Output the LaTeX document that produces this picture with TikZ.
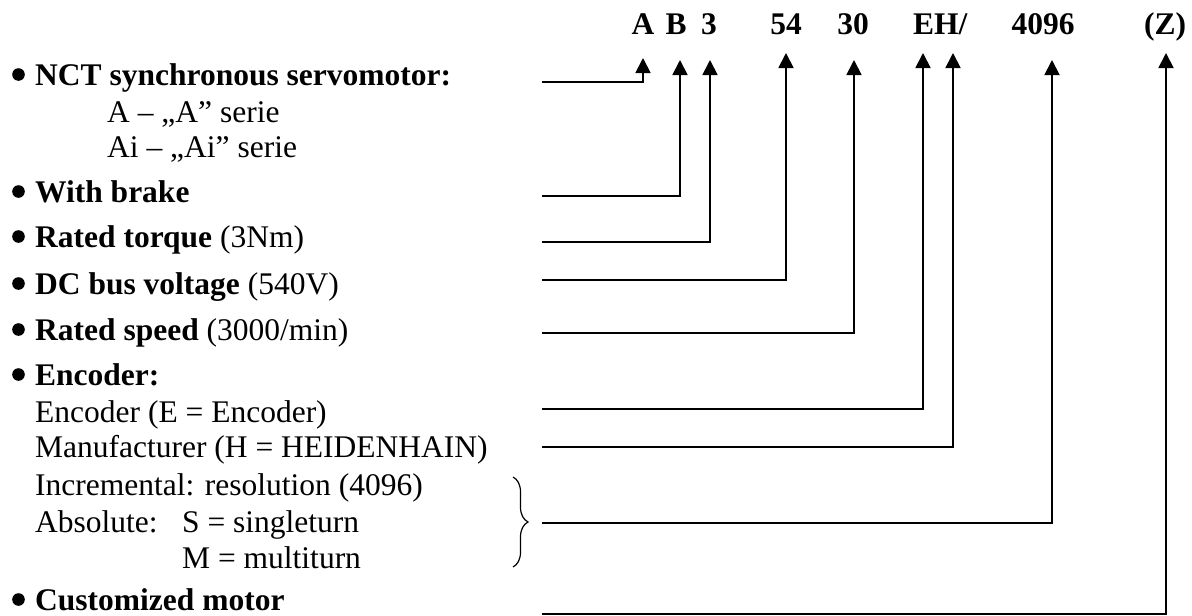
\documentclass[tikz,border=0pt]{standalone}
\usepackage{fontspec}
\setmainfont{Liberation Serif}
\usetikzlibrary{arrows.meta,decorations.pathreplacing}
\begin{document}
\begin{tikzpicture}[x=1pt,y=-1pt,
  lbl/.style={anchor=base west,inner sep=0pt,font=\fontsize{31.5pt}{36pt}\selectfont},
  bullbl/.style={lbl,text depth=0pt},
  code/.style={anchor=base,inner sep=0pt,font=\fontsize{31.5pt}{36pt}\selectfont\bfseries},
  conn/.style={line width=1.8pt,-{Triangle[length=15pt,width=15pt]}},
  bracestyle/.style={line width=1.2pt,decorate,decoration={brace,amplitude=15pt}}]
\useasboundingbox (0,0) rectangle (1192,616);
% code line
\node[code] (cA) at (643,34) {A};
\node[code] (cB) at (676,34) {B};
\node[code] (c3) at (709,34) {3};
\node[code] (c54) at (786,34) {54};
\node[code] (c30) at (853,34) {30};
\node[code,anchor=base west] (cEH) at (913,34) {EH/};
\node[code] (c4096) at (1043,34) {4096};
\node[code] (cZ) at (1165,34) {(Z)};
% left labels (bulleted items start at x=35, bullet drawn at x~18)
\node[lbl] (lNCT) at (35,85) {\textbf{NCT synchronous servomotor:}};
\node[lbl] (lA) at (107,122) {A – „A” serie};
\node[lbl] (lAi) at (107,157) {Ai – „Ai” serie};
\node[lbl] (lB) at (35,202) {\textbf{With brake}};
\node[lbl] (lT) at (35,247) {\textbf{Rated torque} (3Nm)};
\node[lbl] (lV) at (35,294) {\textbf{DC bus voltage} (540V)};
\node[lbl] (lS) at (35,340) {\textbf{Rated speed} (3000/min)};
\node[lbl] (lEnc) at (35,385) {\textbf{Encoder:}};
\node[lbl] (lE) at (35,422) {Encoder (E = Encoder)};
\node[lbl] (lH) at (35,457) {Manufacturer (H = HEIDENHAIN)};
\node[lbl] (lInc) at (35,495) {Incremental: resolution (4096)};
\node[lbl] (lAbs) at (35,532) {Absolute:};
\node[lbl] (lSt) at (182,532) {S = singleturn};
\node[lbl] (lMt) at (182,568) {M = multiturn};
\node[bullbl] (lZ) at (35,610) {\textbf{Customized motor}};
% bullets
\foreach \n in {lNCT,lB,lT,lV,lS,lEnc,lZ}
  \fill ([xshift=-16.5pt,yshift=10.5pt]\n.base west) circle (6.3pt);
% brace
\draw[bracestyle] (513,477) -- (513,567);
% connector coordinates
\coordinate (sA) at (542,82);   \coordinate (tA) at (643,58);
\coordinate (sB) at (542,196);  \coordinate (tB) at (680,60);
\coordinate (s3) at (542,242);  \coordinate (t3) at (710,60);
\coordinate (s54) at (542,280); \coordinate (t54) at (786,53);
\coordinate (s30) at (542,333); \coordinate (t30) at (854,60);
\coordinate (sE) at (542,409);  \coordinate (tE) at (923,53);
\coordinate (sH) at (542,447);  \coordinate (tH) at (953,53);
\coordinate (s4) at (542,523);  \coordinate (t4) at (1052,60);
\coordinate (sZ) at (542,614);  \coordinate (tZ) at (1166,53);
\draw[conn] (sA) -| (tA);
\draw[conn] (sB) -| (tB);
\draw[conn] (s3) -| (t3);
\draw[conn] (s54) -| (t54);
\draw[conn] (s30) -| (t30);
\draw[conn] (sE) -| (tE);
\draw[conn] (sH) -| (tH);
\draw[conn] (s4) -| (t4);
\draw[conn] (sZ) -| (tZ);
\end{tikzpicture}
\end{document}
